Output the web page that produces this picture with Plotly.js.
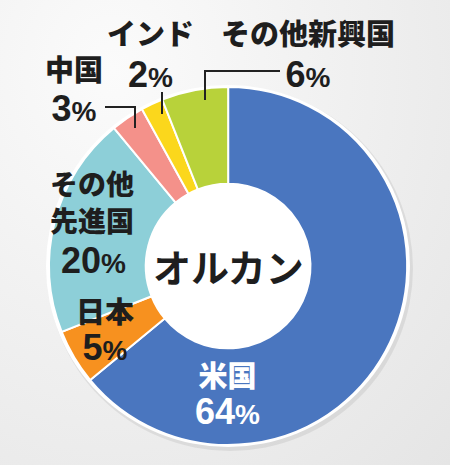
<!DOCTYPE html>
<html><head><meta charset="utf-8">
<script src="https://cdn.plot.ly/plotly-3.0.1.min.js"></script>
<style>
html,body{margin:0;padding:0;width:450px;height:465px;overflow:hidden;
background:radial-gradient(ellipse at 25% 15%, #fbfbfb 0%, #f1f1f1 45%, #e5e5e5 100%);}
#chart{width:450px;height:465px;}
</style></head>
<body><div id="chart"></div>
<script>
const categories = ["米国", "日本", "その他先進国", "中国", "インド", "その他新興国"];
const shares = [64, 5, 20, 3, 2, 6];
const labelLines = [["米国"], ["日本"], ["その他", "先進国"], ["中国"], ["インド"], ["その他新興国"]];
const sliceColors = ["#4a76bf", "#f7911f", "#8dcfd8", "#f4918a", "#fbd71c", "#b8d23a"];
const centerText = "オルカン";

const jp = "Noto Sans CJK JP, sans-serif";
const num = "Liberation Sans, Arial, sans-serif";

const trace = {
  type: "pie",
  labels: categories,
  values: shares,
  sort: false,
  direction: "clockwise",
  rotation: 0,
  hole: 0.46,
  textinfo: "none",
  hoverinfo: "label+percent",
  marker: {colors: sliceColors, line: {color: "#ffffff", width: 2}},
  domain: {x: [0.107, 0.907], y: [0.043, 0.813]},
  showlegend: false
};

const W = 450, H = 465;
const px = x => x / W, py = y => 1 - y / H;

function nameSpan(t, sz){ return '<span style="font-family:' + jp + ';font-size:' + sz + 'px;font-weight:900">' + t + '</span>'; }
function pctSpan(v){
  return '<span style="font-family:' + num + ';font-size:36px;font-weight:700">' + v +
         '<span style="font-size:28px">%</span></span>';
}

// placement per category: [x, yCenter, lineSpacing, color, pctSeparateY, nameSize]
const place = [
  [227, 392, 37, "#ffffff", null, 29],
  [105, 328, 37, "#1e1e1e", null, 29],
  [92, 201, 37, "#1e1e1e", 260, 28],
  [74, 88, 40, "#1e1e1e", null, 29],
  [150, 53, 42, "#1e1e1e", null, 29],
  [308, 53, 42, "#1e1e1e", null, 29]
];
const annotations = [];
categories.forEach((c, i) => {
  const p = place[i];
  const names = labelLines[i].map(t => nameSpan(t, p[5])).join("<br>");
  const base = {xref: "paper", yref: "paper", showarrow: false, xanchor: "center", yanchor: "middle",
                borderpad: 0};
  if (p[4] === null) {
    annotations.push(Object.assign({}, base, {x: px(p[0]), y: py(p[1]),
      text: names + "<br>" + pctSpan(shares[i]),
      font: {family: jp, size: p[2] / 1.3, color: p[3], weight: 900}}));
  } else {
    annotations.push(Object.assign({}, base, {x: px(p[0]), y: py(p[1]),
      text: names, font: {family: jp, size: p[2] / 1.3, color: p[3], weight: 900}}));
    annotations.push(Object.assign({}, base, {x: px(p[0] + 1), y: py(p[4]),
      text: pctSpan(shares[i]), font: {family: num, size: 28, color: p[3], weight: 700}}));
  }
});
annotations.push({xref: "paper", yref: "paper", x: px(229), y: py(265), showarrow: false,
  xanchor: "center", yanchor: "middle", text: centerText,
  font: {family: jp, size: 38, color: "#1e1e1e", weight: 700}});

const lineStyle = {color: "#222222", width: 2};
function pathPx(pts){
  return pts.map((p, i) => (i ? "L" : "M") + px(p[0]) + "," + py(p[1])).join(" ");
}
const leaders = [
  [[105, 107], [135, 107], [135, 128]],
  [[162, 92], [162, 114]],
  [[280, 71], [205, 71], [205, 100]]
];
const shapes = [
  {type: "circle", xref: "paper", yref: "paper", layer: "below",
   x0: px(47), x1: px(413), y0: py(451), y1: py(86),
   fillcolor: "rgba(0,0,0,0.07)", line: {width: 0}},
  {type: "circle", xref: "paper", yref: "paper", layer: "below",
   x0: px(46), x1: px(410), y0: py(447), y1: py(85),
   fillcolor: "#ffffff", line: {width: 0}}
];
leaders.forEach(l => shapes.push({type: "path", xref: "paper", yref: "paper", path: pathPx(l), line: lineStyle}));

const layout = {
  width: 450, height: 465,
  margin: {l: 0, r: 0, t: 0, b: 0},
  paper_bgcolor: "rgba(0,0,0,0)",
  plot_bgcolor: "rgba(0,0,0,0)",
  annotations: annotations,
  shapes: shapes
};
Plotly.newPlot("chart", [trace], layout, {displayModeBar: false, staticPlot: true});
</script>
</body></html>
